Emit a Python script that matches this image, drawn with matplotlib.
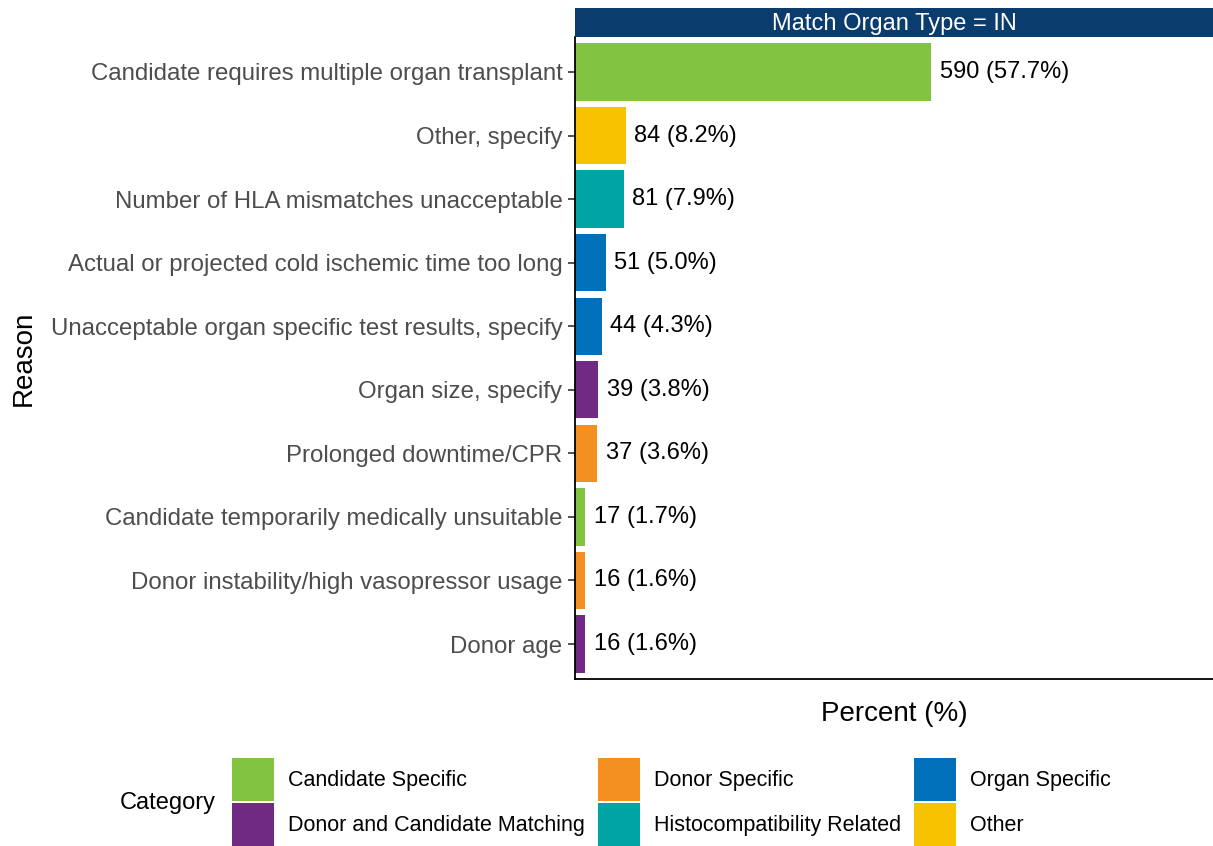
import matplotlib.pyplot as plt
from matplotlib.patches import Patch

plt.rcParams['font.family'] = ['Liberation Sans', 'DejaVu Sans']

reasons = ['Candidate requires multiple organ transplant', 'Other, specify',
           'Number of HLA mismatches unacceptable',
           'Actual or projected cold ischemic time too long',
           'Unacceptable organ specific test results, specify',
           'Organ size, specify', 'Prolonged downtime/CPR',
           'Candidate temporarily medically unsuitable',
           'Donor instability/high vasopressor usage', 'Donor age']
counts = [590, 84, 81, 51, 44, 39, 37, 17, 16, 16]
percents = [57.7, 8.2, 7.9, 5.0, 4.3, 3.8, 3.6, 1.7, 1.6, 1.6]
cats = ['Candidate Specific', 'Other', 'Histocompatibility Related',
        'Organ Specific', 'Organ Specific', 'Donor and Candidate Matching',
        'Donor Specific', 'Candidate Specific', 'Donor Specific',
        'Donor and Candidate Matching']

colors = {'Candidate Specific': '#82C341', 'Donor Specific': '#F39020',
          'Organ Specific': '#0070BA', 'Donor and Candidate Matching': '#702A84',
          'Histocompatibility Related': '#00A4A5', 'Other': '#F7C200'}

fig = plt.figure(figsize=(12.13, 8.46), dpi=100)
ax = fig.add_axes([575/1213, 1-679/846, 638/1213, 642/846])

y = list(range(len(reasons), 0, -1))
ax.barh(y, percents, height=0.9, color=[colors[c] for c in cats])
for yi, c, p in zip(y, counts, percents):
    ax.text(p + 1.4, yi, f'{c} ({p:.1f}%)', va='center', ha='left', fontsize=17)

ax.set_yticks(y)
ax.set_yticklabels(reasons, fontsize=17.3, color='#4D4D4D')
ax.set_xticks([])
ax.set_xlim(0, 103.4)
ax.set_ylim(0.45, 10.55)
ax.tick_params(axis='y', length=5, width=1.2, color='#333333', pad=4)
for s in ['top', 'right']:
    ax.spines[s].set_visible(False)
for s in ['left', 'bottom']:
    ax.spines[s].set_linewidth(1.3)
ax.set_xlabel('Percent (%)', fontsize=20, labelpad=16)
ax.set_ylabel('Reason', fontsize=20)
ax.yaxis.set_label_coords(-0.843, 0.5)

# facet strip
sax = fig.add_axes([575/1213, 1-37/846, 638/1213, 29/846])
sax.set_facecolor('#0B3C6E')
sax.set_xticks([])
sax.set_yticks([])
for s in sax.spines.values():
    s.set_visible(False)
sax.text(0.5, 0.45, 'Match Organ Type = IN', color='white', fontsize=17,
         ha='center', va='center', transform=sax.transAxes)

order = ['Candidate Specific', 'Donor and Candidate Matching', 'Donor Specific',
         'Histocompatibility Related', 'Organ Specific', 'Other']
handles = [Patch(facecolor=colors[k], label=k) for k in order]
fig.legend(handles=handles, ncol=3, loc='center left', bbox_to_anchor=(232/1213, 1-802/846),
           frameon=False, fontsize=15.5, handlelength=1.95, handleheight=2.7,
           handletextpad=0.65, columnspacing=0.6, labelspacing=0.1, borderpad=0,
           borderaxespad=0)
fig.text(120/1213, 1-803/846, 'Category', fontsize=17, va='center', ha='left')

fig.savefig('out.png', dpi=100)
